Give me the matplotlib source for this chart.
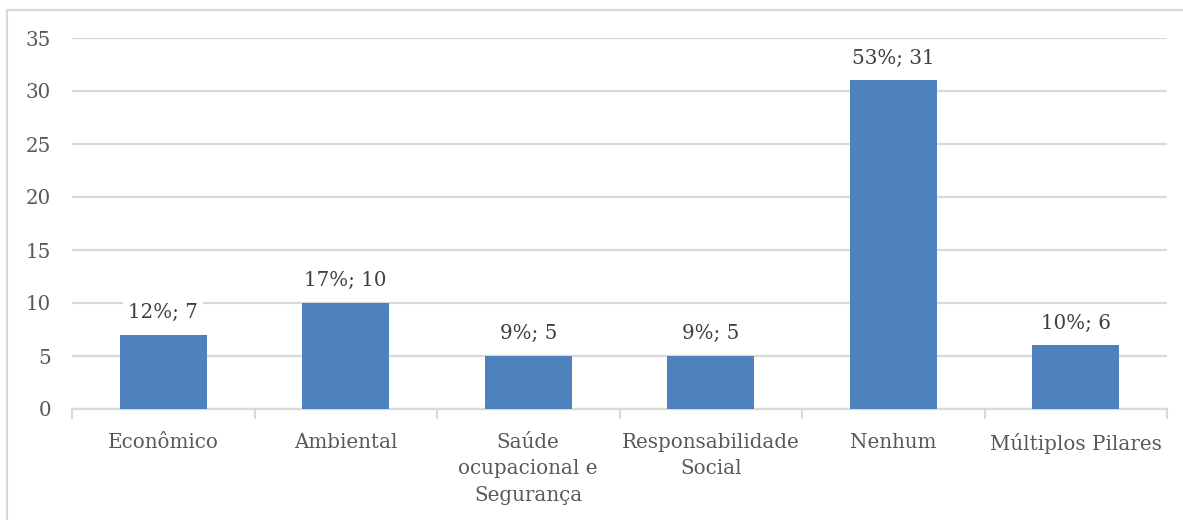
import matplotlib.pyplot as plt
from matplotlib.patches import Rectangle

categories = ["Econômico", "Ambiental", "Saúde\nocupacional e\nSegurança",
              "Responsabilidade\nSocial", "Nenhum", "Múltiplos Pilares"]
counts = [7, 10, 5, 5, 31, 6]
percents = ["12%", "17%", "9%", "9%", "53%", "10%"]
yticks = [0, 5, 10, 15, 20, 25, 30, 35]

W, H = 1183, 520
fig = plt.figure(figsize=(W / 100, H / 100), dpi=100)
plt.rcParams['font.family'] = ['DejaVu Serif']
FS = 14.3

# chart frame
fig.patches.append(Rectangle((7 / W, -0.05), 1.2, (H - 10) / H + 0.05,
                             transform=fig.transFigure, fill=False,
                             edgecolor="#d9d9d9", linewidth=1.5))

ax = fig.add_axes([72 / W, (H - 409) / H, 1095 / W, (409 - 38) / H])
x = list(range(len(categories)))
ax.bar(x, counts, width=0.477, color="#4f81bd", zorder=3)
ax.set_xlim(-0.5, len(categories) - 0.5)
ax.set_ylim(0, 35)
ax.set_yticks(yticks)
ax.yaxis.grid(True, color="#d9d9d9", linewidth=1.6, zorder=0)
ax.set_axisbelow(True)
for s in ["top", "right", "left"]:
    ax.spines[s].set_visible(False)
ax.spines["bottom"].set_color("#d9d9d9")
ax.spines["bottom"].set_linewidth(1.6)
ax.tick_params(axis="y", length=0, pad=15, labelsize=FS, labelcolor="#595959")

# category labels centred, tick marks on category boundaries
ax.set_xticks(x)
ax.set_xticklabels(categories, fontsize=FS, color="#595959", linespacing=1.5,
                   va="top")
ax.tick_params(axis="x", which="major", length=0, pad=17)
ax.set_xticks([i - 0.5 for i in range(len(categories) + 1)], minor=True)
ax.tick_params(axis="x", which="minor", length=7, width=1.5, color="#d9d9d9")

for xi, c, p in zip(x, counts, percents):
    ax.annotate(f"{p}; {c}", (xi, c), xytext=(0, 16), textcoords="offset points",
                ha="center", va="center", fontsize=FS, color="#404040",
                bbox=dict(boxstyle="square,pad=0.25", facecolor="white",
                          edgecolor="none"), zorder=4)

fig.savefig("out.png", dpi=100)
